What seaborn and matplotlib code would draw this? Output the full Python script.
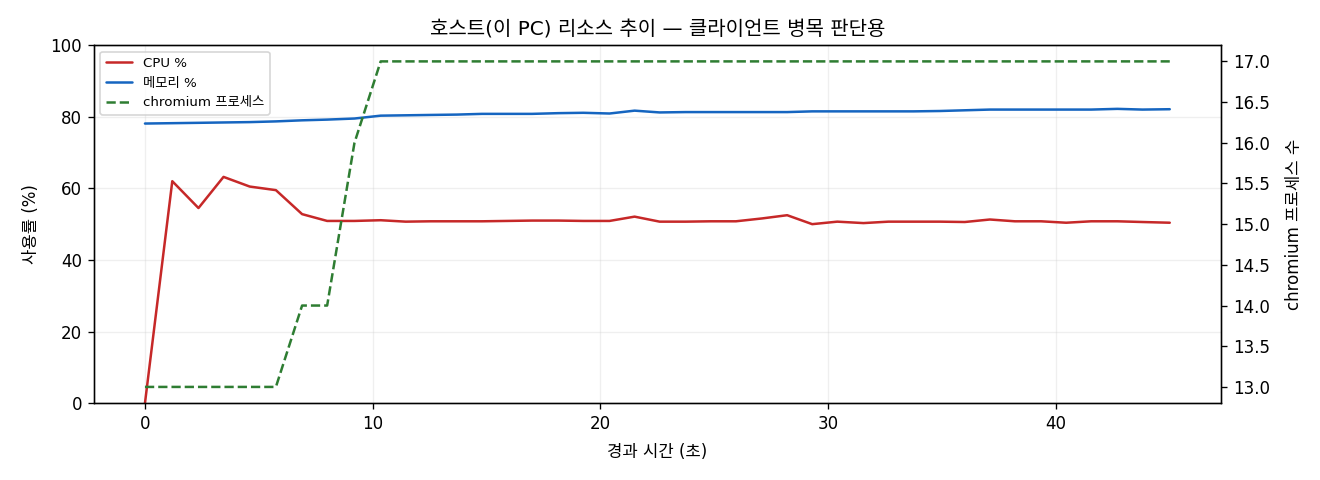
import numpy as np
import pandas as pd
import matplotlib
matplotlib.use("Agg")
import matplotlib.pyplot as plt
import seaborn as sns

# elapsed seconds for each sample
times = [0, 1.2, 2.35, 3.45, 4.6, 5.75, 6.9, 8.0, 9.2, 10.35,
         11.45, 12.55, 13.7, 14.8, 15.9, 17.0, 18.15, 19.25, 20.4, 21.5,
         22.6, 23.75, 24.85, 25.95, 27.1, 28.2, 29.3, 30.4, 31.55, 32.65,
         33.75, 34.9, 36.0, 37.1, 38.2, 39.35, 40.45, 41.55, 42.7, 43.8, 45.0]

cpu = [0, 62.0, 54.5, 63.2, 60.5, 59.5, 52.8, 50.9, 50.9, 51.1,
       50.7, 50.8, 50.8, 50.8, 50.9, 51.0, 51.0, 50.9, 50.9, 52.1,
       50.7, 50.7, 50.8, 50.8, 51.6, 52.5, 50.0, 50.7, 50.3, 50.7,
       50.7, 50.7, 50.6, 51.3, 50.8, 50.8, 50.4, 50.8, 50.8, 50.6, 50.4]

mem = [78.1, 78.2, 78.3, 78.4, 78.5, 78.7, 79.0, 79.2, 79.5, 80.3,
       80.4, 80.5, 80.6, 80.8, 80.8, 80.8, 81.0, 81.1, 80.9, 81.7,
       81.2, 81.3, 81.3, 81.3, 81.3, 81.3, 81.5, 81.5, 81.5, 81.5,
       81.5, 81.6, 81.8, 82.0, 82.0, 82.0, 82.0, 82.0, 82.2, 82.0, 82.1]

chromium = [13, 13, 13, 13, 13, 13, 14, 14, 16, 17,
            17, 17, 17, 17, 17, 17, 17, 17, 17, 17,
            17, 17, 17, 17, 17, 17, 17, 17, 17, 17,
            17, 17, 17, 17, 17, 17, 17, 17, 17, 17, 17]

df = pd.DataFrame({"t": times, "cpu": cpu, "mem": mem, "chromium": chromium})

sns.set_style("ticks", rc={"axes.edgecolor": "black", "text.color": "black",
                           "axes.labelcolor": "black", "xtick.color": "black",
                           "ytick.color": "black"})
plt.rcParams["font.family"] = ["DejaVu Sans", "Noto Sans CJK KR"]
plt.rcParams["axes.unicode_minus"] = False

fig, ax1 = plt.subplots(figsize=(11, 4), dpi=120)
fig.subplots_adjust(left=0.071, right=0.925, top=0.906, bottom=0.16)

sns.lineplot(data=df, x="t", y="cpu", ax=ax1, color="#c62828", linewidth=1.5, label="CPU %")
sns.lineplot(data=df, x="t", y="mem", ax=ax1, color="#1565c0", linewidth=1.5, label="메모리 %")
ax1.set_ylim(0, 100)
ax1.set_xlabel("경과 시간 (초)", fontsize=10, labelpad=6)
ax1.set_ylabel("사용률 (%)", fontsize=10, labelpad=6)
ax1.grid(True, alpha=0.3)
ax1.tick_params(labelsize=10)

ax2 = ax1.twinx()
sns.lineplot(data=df, x="t", y="chromium", ax=ax2, color="#2e7d32", linewidth=1.5,
             linestyle="--", label="chromium 프로세스")
ax2.set_ylabel("chromium 프로세스 수", fontsize=10, labelpad=9)
ax2.tick_params(labelsize=10)
ax2.get_legend().remove()

h1, l1 = ax1.get_legend_handles_labels()
h2, l2 = ax2.get_legend_handles_labels()
ax1.legend(h1 + h2, l1 + l2, loc="upper left", fontsize=8)

ax1.set_title("호스트(이 PC) 리소스 추이 — 클라이언트 병목 판단용", fontsize=12)

fig.savefig("out.png", dpi=120)
